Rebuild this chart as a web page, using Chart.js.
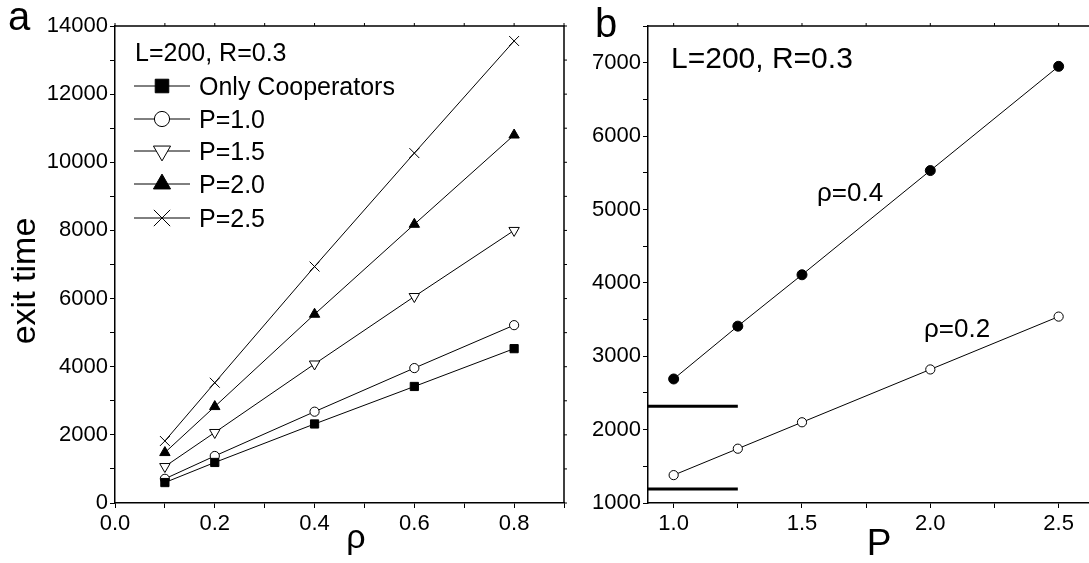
<!DOCTYPE html>
<html>
<head>
<meta charset="utf-8">
<script src="https://cdn.jsdelivr.net/npm/chart.js@4/dist/chart.umd.min.js"></script>
<style>
  html,body{margin:0;padding:0;background:#fff;}
  body{width:1089px;height:563px;overflow:hidden;position:relative;}
  .box{position:absolute;top:0;height:563px;}
</style>
</head>
<body>
<div class="box" style="left:0;width:580px"><canvas id="ca"></canvas></div>
<div class="box" style="left:560px;width:560px"><canvas id="cb"></canvas></div>
<script>
// panel a: exit time vs rho
const rho=[0.1,0.2,0.4,0.6,0.8];
const onlyCoop=[600,1190,2320,3420,4530];
const p10=[710,1380,2680,3960,5220];
const p15=[1070,2070,4080,6060,8000];
const p20=[1480,2830,5540,8180,10800];
const p25=[1820,3530,6940,10270,13560];
const seriesA=['Only Cooperators','P=1.0','P=1.5','P=2.0','P=2.5'];

// panel b: exit time vs P
const pVals=[1.0,1.25,1.5,2.0,2.5];
const rho04=[2690,3410,4110,5530,6950];
const rho02=[1380,1740,2100,2820,3540];
// only-cooperator levels (rho=0.4, rho=0.2) drawn as short bars
const refP=[0.9,1.25];
const refOC=[2320,1190];

const FONT='"Liberation Sans", Arial, sans-serif';
Chart.defaults.font.family=FONT;
Chart.defaults.color='#000';

const pts=(xs,ys)=>xs.map((x,i)=>({x:x,y:ys[i]}));

function ds(label,ys,xs,style,r,fill,rot){
  return {label:label,data:pts(xs,ys),borderColor:'#000',borderWidth:1,
    pointStyle:style,pointRadius:r,pointHoverRadius:r,pointRotation:rot||0,
    pointBackgroundColor:fill,pointBorderColor:'#000',pointBorderWidth:1,
    showLine:true,tension:0,fill:false};
}

function axes(xmin,xmax,xstep,xmajor,ymin,ymax,ystep,ymajor,yw){
  const tick={font:{size:22,family:FONT},color:'#000'};
  const grid={display:true,drawOnChartArea:false,drawTicks:true,tickLength:5,color:'#000',lineWidth:1};
  return {
    x:{type:'linear',min:xmin,max:xmax,
      ticks:Object.assign({},tick,{stepSize:xstep,includeBounds:false,padding:3,maxRotation:0,autoSkip:false,
        callback:v=>Math.abs(v/xmajor-Math.round(v/xmajor))<1e-6?v.toFixed(1):''}),
      grid:grid,border:{display:true,color:'#000',width:1.5},
      afterFit:s=>{s.height=60;}},
    y:{type:'linear',min:ymin,max:ymax,
      ticks:Object.assign({},tick,{stepSize:ystep,includeBounds:false,padding:2,autoSkip:false,
        callback:v=>v%ymajor===0?String(v):''}),
      grid:grid,border:{display:true,color:'#000',width:1.5},
      afterFit:s=>{s.width=yw;}}
  };
}

function frame(chart){
  const a=chart.chartArea,ctx=chart.ctx;
  ctx.save();
  ctx.strokeStyle='#000';ctx.lineWidth=1.5;
  ctx.beginPath();
  ctx.moveTo(a.left,a.top);ctx.lineTo(a.right,a.top);ctx.lineTo(a.right,a.bottom);
  ctx.stroke();
  ctx.lineWidth=1;
  chart.scales.x.ticks.forEach(t=>{
    const px=chart.scales.x.getPixelForValue(t.value);
    ctx.beginPath();ctx.moveTo(px,a.top);ctx.lineTo(px,a.top-3);ctx.stroke();
  });
  chart.scales.y.ticks.forEach(t=>{
    const py=chart.scales.y.getPixelForValue(t.value);
    ctx.beginPath();ctx.moveTo(a.right,py);ctx.lineTo(a.right+3,py);ctx.stroke();
  });
  ctx.restore();
}

function txt(ctx,s,x,y,size,align,base){
  ctx.font=size+'px '+FONT;ctx.fillStyle='#000';
  ctx.textAlign=align||'left';ctx.textBaseline=base||'alphabetic';
  ctx.fillText(s,x,y);
}

const legendScale=1.65;
const plugA={id:'decoA',afterDraw(chart){
  const ctx=chart.ctx;
  frame(chart);
  ctx.save();
  txt(ctx,'a',8,30,40);
  txt(ctx,'ρ',356,548,34,'center');
  ctx.save();ctx.translate(26,281);ctx.rotate(-Math.PI/2);
  txt(ctx,'exit time',0,0,34,'center','middle');ctx.restore();
  txt(ctx,'L=200, R=0.3',135,61,25);
  const rows=[86,119,151,184,218];
  chart.data.datasets.forEach((d,i)=>{
    const y=rows[i];
    ctx.strokeStyle='#000';ctx.lineWidth=1;
    ctx.beginPath();ctx.moveTo(134,y);ctx.lineTo(190,y);ctx.stroke();
    ctx.fillStyle=d.pointBackgroundColor;ctx.strokeStyle='#000';ctx.lineWidth=1;
    Chart.helpers.drawPoint(ctx,{pointStyle:d.pointStyle,radius:d.pointRadius*legendScale,
      rotation:d.pointRotation,borderWidth:1},162,y);
    txt(ctx,d.label,199,y+9,25);
  });
  ctx.restore();
}};

new Chart(document.getElementById('ca'),{
  type:'scatter',
  data:{datasets:[
    ds(seriesA[0],onlyCoop,rho,'rect',5.8,'#000'),
    ds(seriesA[1],p10,rho,'circle',4.6,'#fff'),
    ds(seriesA[2],p15,rho,'triangle',6,'#fff',180),
    ds(seriesA[3],p20,rho,'triangle',6,'#000'),
    ds(seriesA[4],p25,rho,'crossRot',7,'#000')
  ]},
  options:{responsive:true,maintainAspectRatio:false,animation:false,
    layout:{padding:{top:26,right:16,left:0,bottom:0}},
    plugins:{legend:{display:false},tooltip:{enabled:false}},
    scales:axes(0,0.9,0.1,0.2,0,14000,1000,2000,115)},
  plugins:[plugA]
});

const plugB={id:'decoB',afterDraw(chart){
  const ctx=chart.ctx;
  frame(chart);
  ctx.save();
  txt(ctx,'b',35,37,40);
  txt(ctx,'P',319,555,37,'center');
  txt(ctx,'L=200, R=0.3',111,68,30);
  txt(ctx,'ρ=0.4',257,201,26);
  txt(ctx,'ρ=0.2',364,337,26);
  ctx.restore();
}};

const refA=ds('',[refOC[0],refOC[0]],refP,'circle',0,'#000');
const refB=ds('',[refOC[1],refOC[1]],refP,'circle',0,'#000');
refA.borderWidth=3;refB.borderWidth=3;

new Chart(document.getElementById('cb'),{
  type:'scatter',
  data:{datasets:[
    ds('ρ=0.4',rho04,pVals,'circle',5,'#000'),
    ds('ρ=0.2',rho02,pVals,'circle',4.6,'#fff'),
    refA,refB
  ]},
  options:{responsive:true,maintainAspectRatio:false,animation:false,
    layout:{padding:{top:26,right:28,left:0,bottom:0}},
    plugins:{legend:{display:false},tooltip:{enabled:false}},
    scales:axes(0.9,2.63,0.25,0.5,1000,7500,500,1000,88)},
  plugins:[plugB]
});
</script>
</body>
</html>
